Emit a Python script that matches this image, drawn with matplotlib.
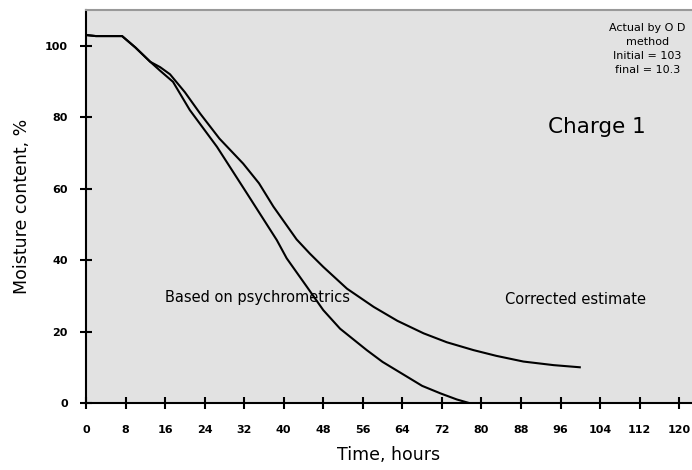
import matplotlib
matplotlib.use("Agg")
import matplotlib.pyplot as plt

# Data
psy_t = [0, 2, 7.3, 10, 13, 15, 17.6, 21, 26.5, 32.5, 38.6, 40.6, 44.7, 48, 51.4, 56.8, 60, 64.9, 68, 71.7, 75, 77.5]
psy_y = [103, 102.7, 102.7, 99.5, 95.5, 93, 89.9, 82, 71.7, 58.8, 45.6, 40.5, 32.5, 26, 20.8, 14.8, 11.5, 7.4, 4.8, 2.7, 1.0, 0]

cor_t = [0, 2, 7.3, 10, 13, 15, 17, 20, 23.1, 27, 31.8, 35, 37.9, 42.6, 45.3, 48, 52.8, 58.2, 63, 68.3, 73, 78.4, 83, 88.5, 94.6, 99.9]
cor_y = [103, 102.7, 102.7, 99.5, 95.5, 94, 92, 87, 81, 74, 67, 61.5, 55, 45.8, 41.8, 38.1, 32, 26.9, 23, 19.5, 17, 14.8, 13.2, 11.6, 10.6, 10.0]

x_ticks = list(range(0, 121, 8))
y_ticks = [0, 20, 40, 60, 80, 100]

fig = plt.figure(figsize=(6.92, 4.70), dpi=100)
ax = fig.add_axes([86/692, 1 - 403/470, 1 - 86/692, (403 - 10)/470])
ax.set_facecolor('#e2e2e2')

ax.plot(psy_t, psy_y, color='black', lw=1.5)
ax.plot(cor_t, cor_y, color='black', lw=1.5)

ax.set_xlim(0, 122.6)
ax.set_ylim(0, 110)
ax.set_xticks(x_ticks)
ax.set_yticks(y_ticks)
ax.tick_params(direction='inout', length=8, width=1.5, labelsize=8)
ax.tick_params(axis='x', pad=12)
ax.tick_params(axis='y', pad=9)
for lab in ax.get_xticklabels() + ax.get_yticklabels():
    lab.set_fontweight('bold')

ax.spines['left'].set_linewidth(1.5)
ax.spines['bottom'].set_linewidth(1.5)
ax.spines['top'].set_color('#999999')
ax.spines['top'].set_linewidth(1.5)
ax.spines['right'].set_visible(False)

ax.set_xlabel('Time, hours', fontsize=12.5, labelpad=8)
ax.set_ylabel('Moisture content, %', fontsize=12.5, labelpad=10)

ax.text(16, 29.4, 'Based on psychrometrics', fontsize=10.5, va='center', ha='left')
ax.text(84.8, 29.1, 'Corrected estimate', fontsize=10.5, va='center', ha='left')
ax.text(93.5, 77.2, 'Charge 1', fontsize=15.5, va='center', ha='left')
ax.text(113.6, 99, 'Actual by O D\nmethod\nInitial = 103\nfinal = 10.3',
        fontsize=8, ha='center', va='center', linespacing=1.5)

fig.savefig('out.png', dpi=100)
